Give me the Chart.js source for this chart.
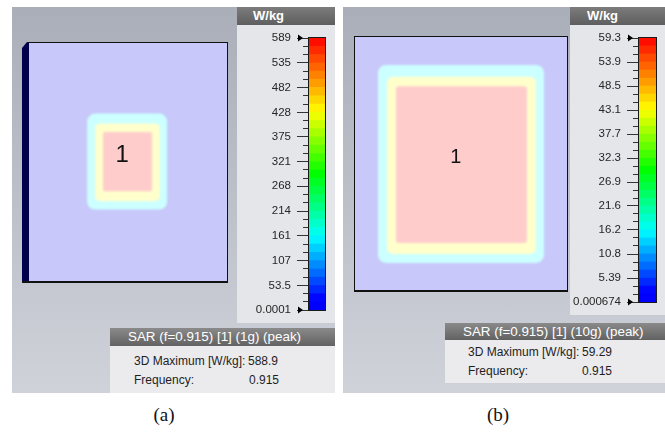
<!DOCTYPE html>
<html>
<head>
<meta charset="utf-8">
<script src="https://cdn.jsdelivr.net/npm/chart.js@4.4.0/dist/chart.umd.min.js"></script>
<style>
  html, body { margin: 0; padding: 0; }
  body { width: 665px; height: 432px; background: #fff; position: relative; overflow: hidden;
         font-family: "Liberation Sans", Arial, sans-serif; }
  .abs { position: absolute; }
  .panel { background: linear-gradient(#a9aeb9, #cfd2d9); }
  .cbHead { background: linear-gradient(#7c7c7c, #5e5e5e); color: #fff; font-weight: bold;
            font-size: 13px; line-height: 18px; box-sizing: border-box; }
  .cbBody { background: #e5e6ea; }
  .infoHead { background: linear-gradient(#8a8a8a, #626262); color: #fff; font-size: 13.4px;
              box-sizing: border-box; padding-left: 18px; white-space: nowrap; }
  .infoBody { background: #ebebee; }
  .row { font-size: 12px; line-height: 14px; color: #1e1e1e; white-space: nowrap; }
  .cap { font-family: "Liberation Serif", "Times New Roman", serif; font-size: 19px; line-height: 20px;
         color: #111; width: 60px; text-align: center; }
  canvas { position: absolute; }
</style>
</head>
<body>
<!-- panel (a) -->
<div class="abs panel" style="left:12px;top:7px;width:323px;height:386px"></div>
<div class="abs cbHead" style="left:237px;top:7px;width:98px;height:18px;padding-left:16px">W/kg</div>
<div class="abs cbBody" style="left:237px;top:25px;width:98px;height:298px"></div>
<div class="abs infoHead" style="left:110px;top:328px;width:225px;height:18px;line-height:18px">SAR (f=0.915) [1] (1g) (peak)</div>
<div class="abs infoBody" style="left:110px;top:346px;width:225px;height:47px"></div>
<div class="abs row" style="left:134px;top:354px">3D Maximum [W/kg]:</div>
<div class="abs row" id="maxA" style="left:248px;top:354px"></div>
<div class="abs row" style="left:134px;top:373px">Frequency:</div>
<div class="abs row" id="freqA" style="left:249px;top:373px"></div>
<canvas id="mapA" width="230" height="262" style="left:12px;top:30px"></canvas>
<canvas id="barA" width="98" height="298" style="left:237px;top:25px"></canvas>
<div class="abs cap" style="left:134px;top:405px">(a)</div>

<!-- panel (b) -->
<div class="abs panel" style="left:343px;top:7px;width:322px;height:386px"></div>
<div class="abs cbHead" style="left:570px;top:7px;width:95px;height:18px;padding-left:17px">W/kg</div>
<div class="abs cbBody" style="left:570px;top:25px;width:95px;height:290px"></div>
<div class="abs infoHead" style="left:445px;top:323px;width:220px;height:17px;line-height:17px">SAR (f=0.915) [1] (10g) (peak)</div>
<div class="abs infoBody" style="left:445px;top:340px;width:220px;height:43px"></div>
<div class="abs row" style="left:468px;top:345px">3D Maximum [W/kg]:</div>
<div class="abs row" id="maxB" style="left:582px;top:345px"></div>
<div class="abs row" style="left:468px;top:364px">Frequency:</div>
<div class="abs row" id="freqB" style="left:582px;top:364px"></div>
<canvas id="mapB" width="230" height="275" style="left:343px;top:25px"></canvas>
<canvas id="barB" width="95" height="290" style="left:570px;top:25px"></canvas>
<div class="abs cap" style="left:468px;top:405px">(b)</div>

<script>
// ---- data ----
// colour-bar tick values, top to bottom (W/kg)
const ticksA = [589, 535, 482, 428, 375, 321, 268, 214, 161, 107, 53.5, 0.0001];
const labelsA = ['589', '535', '482', '428', '375', '321', '268', '214', '161', '107', '53.5', '0.0001'];
const ticksB = [59.3, 53.9, 48.5, 43.1, 37.7, 32.3, 26.9, 21.6, 16.2, 10.8, 5.39, 0.000674];
const labelsB = ['59.3', '53.9', '48.5', '43.1', '37.7', '32.3', '26.9', '21.6', '16.2', '10.8', '5.39', '0.000674'];

// peak values and frequency shown in the result boxes
const peakA = 588.9;   // 1 g averaged
const peakB = 59.29;   // 10 g averaged
const freqGHz = 0.915;

// evaluation plane, mm
const planeX = [0, 50];
const planeY = [0, 60];
// iso-SAR zones, outermost first: [x0, x1, y0, y1] in mm
const zonesA = [[14.6, 34.7, 18.1, 42.1], [16.6, 32.9, 20.2, 39.6], [18.6, 30.9, 22.7, 37.5]];
const zonesB = [[5.6, 44.4, 6.6, 53.2], [7.7, 42.5, 8.7, 50.4], [9.8, 40.4, 11.3, 48.2]];
// source label position, mm
const sourceA = [23.4, 31.7];
const sourceB = [23.8, 31.5];

// ---- styles ----
const PLANE_FILL = '#c8c8fa';
const ZONE_FILLS = ['#ccffff', '#ffffcc', '#ffcccc'];
const ZONE_RADII_A = [8, 5, 2];
const ZONE_RADII_B = [8, 6, 3];

document.getElementById('maxA').textContent = String(peakA);
document.getElementById('maxB').textContent = String(peakB);
document.getElementById('freqA').textContent = freqGHz.toFixed(3);
document.getElementById('freqB').textContent = freqGHz.toFixed(3);

// jet-like colour map, t = 0 (min) .. 1 (max)
const CMAP = [
  [0.00, [0, 0, 255]], [0.04, [0, 0, 255]], [0.27, [0, 255, 255]],
  [0.50, [0, 255, 0]], [0.73, [255, 255, 0]], [1.00, [255, 0, 0]]
];
function cmap(t) {
  for (let i = 1; i < CMAP.length; i++) {
    if (t <= CMAP[i][0]) {
      const [t0, c0] = CMAP[i - 1], [t1, c1] = CMAP[i];
      const f = (t - t0) / (t1 - t0);
      const c = c0.map((v, k) => Math.round(v + (c1[k] - v) * f));
      return `rgb(${c[0]},${c[1]},${c[2]})`;
    }
  }
  return 'rgb(255,0,0)';
}

Chart.defaults.font.family = '"Liberation Sans", Arial, sans-serif';
Chart.defaults.animation = false;

// ---- colour bar ----
function makeColorBar(id, ticks, labels, axisWidth, padRight) {
  const asc = ticks.slice().reverse();
  // each labelled interval is split in three colour levels
  const edges = [];
  for (let i = 0; i < asc.length - 1; i++) {
    for (let k = 0; k < 3; k++) edges.push(asc[i] + (asc[i + 1] - asc[i]) * k / 3);
  }
  edges.push(asc[asc.length - 1]);
  const n = edges.length - 1;
  const datasets = [];
  for (let i = 0; i < n; i++) {
    datasets.push({
      data: [[edges[i], edges[i + 1]]],
      backgroundColor: cmap((i + 0.5) / n),
      borderWidth: 0, grouped: false,
      barPercentage: 1, categoryPercentage: 1
    });
  }
  const lo = asc[0], hi = asc[asc.length - 1];
  const frame = {
    id: 'barFrame',
    afterDatasetsDraw(chart) {
      const { ctx, chartArea: a, scales: { y } } = chart;
      ctx.save();
      ctx.strokeStyle = '#1a1a1a';
      ctx.lineWidth = 1;
      ctx.strokeRect(Math.round(a.left) - 0.5, Math.round(a.top) - 0.5,
                     Math.round(a.width) + 1, Math.round(a.height) + 1);
      // range arrows at min and max
      ctx.fillStyle = '#000';
      [hi, lo].forEach(v => {
        const py = y.getPixelForValue(v);
        ctx.beginPath();
        ctx.moveTo(a.left - 6, py);
        ctx.lineTo(a.left - 11, py - 3.5);
        ctx.lineTo(a.left - 11, py + 3.5);
        ctx.closePath();
        ctx.fill();
      });
      ctx.restore();
    }
  };
  return new Chart(document.getElementById(id), {
    type: 'bar',
    data: { labels: [''], datasets },
    options: {
      responsive: false,
      devicePixelRatio: 1,
      layout: { padding: { top: 13, bottom: 12, right: padRight, left: 0 } },
      plugins: { legend: { display: false }, tooltip: { enabled: false } },
      scales: {
        x: { display: false },
        y: {
          position: 'left', weight: 10, min: lo, max: hi,
          afterBuildTicks: s => { s.ticks = ticks.map(v => ({ value: v })); },
          afterFit: s => { s.width = axisWidth; },
          ticks: { autoSkip: false, padding: 6, color: '#262626', font: { size: 11.5 },
                   callback: (v, i) => labels[i] },
          grid: { drawOnChartArea: false, tickLength: 12, tickColor: '#333', tickWidth: 1 },
          border: { display: false }
        },
        ym: {
          position: 'left', weight: 0, min: lo, max: hi,
          afterBuildTicks: s => { s.ticks = edges.map(v => ({ value: v })); },
          afterFit: s => { s.width = 0; },
          ticks: { display: false },
          grid: { drawOnChartArea: false, tickLength: 6, tickColor: '#333', tickWidth: 1 },
          border: { display: false }
        }
      }
    },
    plugins: [frame]
  });
}

// ---- SAR map on the evaluation plane ----
function makeMap(id, zones, radii, source, fontPx, pad, slabSide) {
  const painter = {
    id: 'sarMap',
    beforeDatasetsDraw(chart) {
      const { ctx, chartArea: a, scales: { x, y } } = chart;
      ctx.save();
      if (slabSide) {
        ctx.fillStyle = '#00004c';
        ctx.beginPath();
        ctx.moveTo(a.left - 7, a.top + 6);
        ctx.lineTo(a.left - 2, a.top);
        ctx.lineTo(a.left, a.top);
        ctx.lineTo(a.left, a.bottom);
        ctx.lineTo(a.left - 7, a.bottom);
        ctx.closePath();
        ctx.fill();
      }
      ctx.fillStyle = PLANE_FILL;
      ctx.fillRect(a.left, a.top, a.width, a.height);
      // iso-SAR zones with slightly soft edges
      ctx.filter = 'blur(0.8px)';
      zones.forEach((z, i) => {
        const x0 = x.getPixelForValue(z[0]), x1 = x.getPixelForValue(z[1]);
        const yt = y.getPixelForValue(z[3]), yb = y.getPixelForValue(z[2]);
        ctx.beginPath();
        ctx.roundRect(x0, yt, x1 - x0, yb - yt, radii[i]);
        ctx.fillStyle = ZONE_FILLS[i];
        ctx.fill();
      });
      ctx.filter = 'none';
      // plane outline
      ctx.strokeStyle = '#111';
      ctx.lineWidth = 1;
      ctx.beginPath();
      ctx.moveTo(a.left - (slabSide ? 2 : 0), a.top + 0.5);
      ctx.lineTo(a.right, a.top + 0.5);
      ctx.moveTo(a.right - 0.5, a.top);
      ctx.lineTo(a.right - 0.5, a.bottom);
      if (!slabSide) {
        ctx.moveTo(a.left + 0.5, a.top);
        ctx.lineTo(a.left + 0.5, a.bottom);
      }
      ctx.stroke();
      ctx.lineWidth = 2;
      ctx.beginPath();
      ctx.moveTo(a.left - (slabSide ? 7 : 0), a.bottom);
      ctx.lineTo(a.right, a.bottom);
      ctx.stroke();
      ctx.restore();
    },
    afterDatasetsDraw(chart) {
      const pt = chart.getDatasetMeta(0).data[0];
      const { ctx } = chart;
      ctx.save();
      ctx.fillStyle = '#111';
      ctx.font = `${fontPx}px "Liberation Sans", Arial, sans-serif`;
      ctx.textAlign = 'center';
      ctx.textBaseline = 'middle';
      ctx.fillText('1', pt.x, pt.y);
      ctx.restore();
    }
  };
  return new Chart(document.getElementById(id), {
    type: 'scatter',
    data: { datasets: [{ data: [{ x: source[0], y: source[1] }], pointRadius: 0 }] },
    options: {
      responsive: false,
      devicePixelRatio: 1,
      layout: { padding: pad },
      plugins: { legend: { display: false }, tooltip: { enabled: false } },
      scales: {
        x: { type: 'linear', display: false, min: planeX[0], max: planeX[1] },
        y: { type: 'linear', display: false, min: planeY[0], max: planeY[1] }
      }
    },
    plugins: [painter]
  });
}

makeMap('mapA', zonesA, ZONE_RADII_A, sourceA, 24, { left: 17, right: 14, top: 12, bottom: 10 }, true);
makeMap('mapB', zonesB, ZONE_RADII_B, sourceB, 20, { left: 11, right: 5, top: 11, bottom: 9 }, false);
makeColorBar('barA', ticksA, labelsA, 72, 10);
makeColorBar('barB', ticksB, labelsB, 69, 9);
</script>
</body>
</html>
